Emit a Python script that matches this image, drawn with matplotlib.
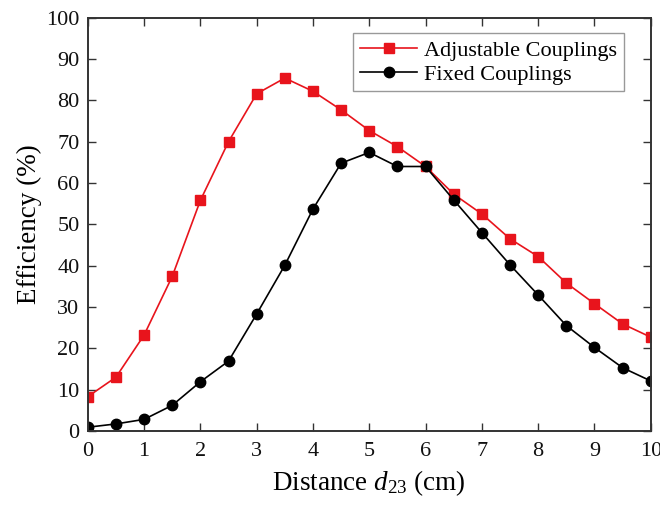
import matplotlib
matplotlib.use("Agg")
import matplotlib.pyplot as plt

plt.rcParams['font.family'] = ['Liberation Serif', 'DejaVu Serif']
plt.rcParams['mathtext.fontset'] = 'custom'
plt.rcParams['mathtext.rm'] = 'Liberation Serif'
plt.rcParams['mathtext.it'] = 'Liberation Serif:italic'

distance = [0, 0.5, 1, 1.5, 2, 2.5, 3, 3.5, 4, 4.5, 5,
            5.5, 6, 6.5, 7, 7.5, 8, 8.5, 9, 9.5, 10]
adjustable = [8.3, 13.0, 23.2, 37.4, 55.8, 70.0, 81.6, 85.4, 82.2, 77.7, 72.7,
              68.8, 64.0, 57.3, 52.5, 46.5, 42.2, 35.8, 30.8, 25.9, 22.7]
fixed = [0.9, 1.7, 2.8, 6.2, 11.9, 16.9, 28.3, 40.1, 53.7, 64.8, 67.4,
         64.0, 64.0, 55.9, 48.0, 40.2, 32.9, 25.5, 20.2, 15.3, 12.1]

fig = plt.figure(figsize=(6.6, 5.07), dpi=100)
ax = fig.add_axes([0.133, 0.150, 0.853, 0.815])

ax.plot(distance, adjustable, color='#e8141c', marker='s', markersize=7,
        linewidth=1.2, label='Adjustable Couplings')
ax.plot(distance, fixed, color='black', marker='o', markersize=7.5,
        linewidth=1.2, label='Fixed Couplings')

ax.set_xlim(0, 10)
ax.set_ylim(0, 100)
ax.set_xticks(range(0, 11))
ax.set_yticks(range(0, 101, 10))
ax.tick_params(direction='in', top=True, right=True, length=6, width=1,
               labelsize=16, colors='#333333', labelcolor='#111111')
ax.tick_params(axis='x', pad=8)
ax.tick_params(axis='y', pad=6)
for s in ax.spines.values():
    s.set_linewidth(1.4)
    s.set_color('#333333')

ax.set_xlabel('Distance $d_{23}$ (cm)', fontsize=19.5, labelpad=5)
ax.set_ylabel('Efficiency (%)', fontsize=19.5, labelpad=3)

leg = ax.legend(loc='upper right', bbox_to_anchor=(0.952, 0.962), fontsize=16,
                fancybox=False, edgecolor='#999999', framealpha=1,
                handlelength=2.6, borderpad=0.3, labelspacing=0.15,
                handletextpad=0.3, borderaxespad=0)
leg.get_frame().set_linewidth(1.0)

fig.savefig('out.png', dpi=100)
